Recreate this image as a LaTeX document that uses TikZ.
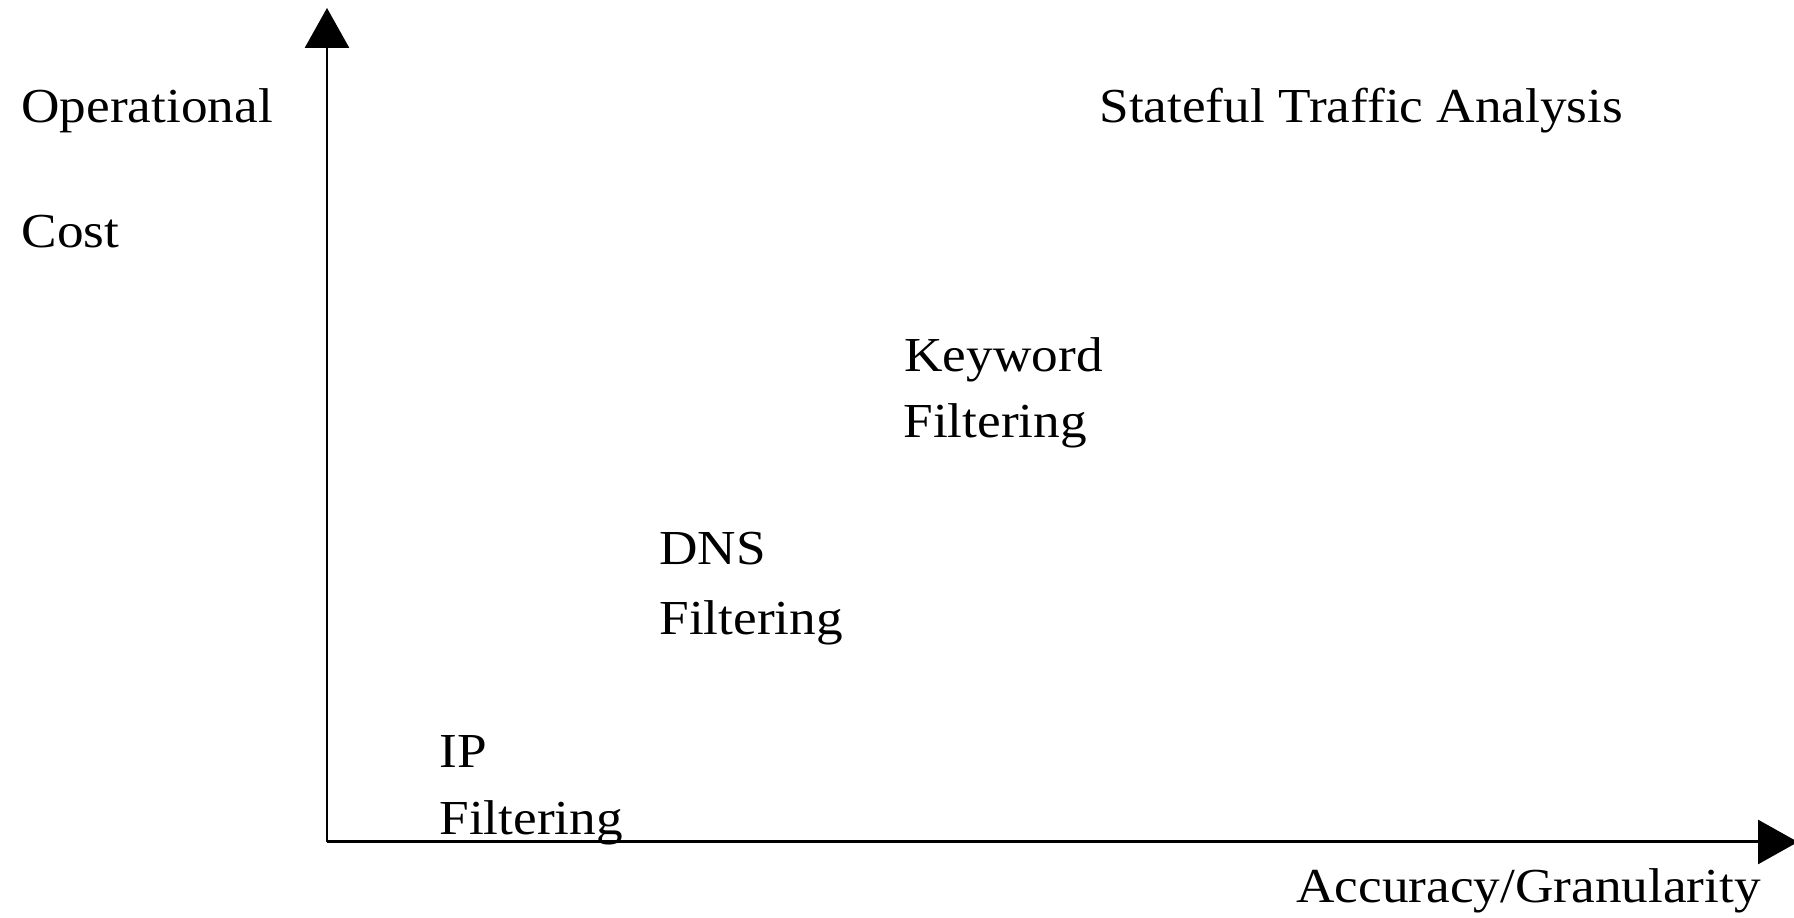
\documentclass[tikz,border=0pt]{standalone}
\usepackage{fontspec}
\setmainfont{Liberation Serif}[FakeStretch=1.09]
\usetikzlibrary{positioning,arrows.meta}

\begin{document}
\begin{tikzpicture}[line width=0.85pt,
                    axis arrow/.style={-{Triangle[length=0.4cm,width=0.44cm]}},
                    main label/.style={anchor=base west,inner sep=0pt,font=\fontsize{13.9pt}{16pt}\selectfont}
                   ]
  \useasboundingbox (-3.27,-0.76) rectangle (14.67,8.42);

  \coordinate (O) at (0,0);
  \coordinate (Y) at (0,8.34);
  \coordinate (X) at (14.71,0);

  \node[main label] (op) at (-3.07,7.19) {Operational};
  \node[main label] (cost) at (-3.07,5.94) {Cost};
  \node[main label] (acc) at (9.68,-0.61) {Accuracy/Granularity};

  \node[main label] (ip) at (1.11,0.74) {IP};
  \node[main label] (ipf) at (1.11,0.07) {Filtering};
  \node[main label] (dns) at (3.31,2.77) {DNS};
  \node[main label] (dnsf) at (3.31,2.07) {Filtering};
  \node[main label] (kw) at (5.76,4.70) {Keyword};
  \node[main label] (kwf) at (5.75,4.04) {Filtering};
  \node[main label] (sta) at (7.71,7.19) {Stateful Traffic Analysis};

  \draw[axis arrow] (O) -- (Y);
  \draw[axis arrow] (O) -- (X);
\end{tikzpicture}
\end{document}
